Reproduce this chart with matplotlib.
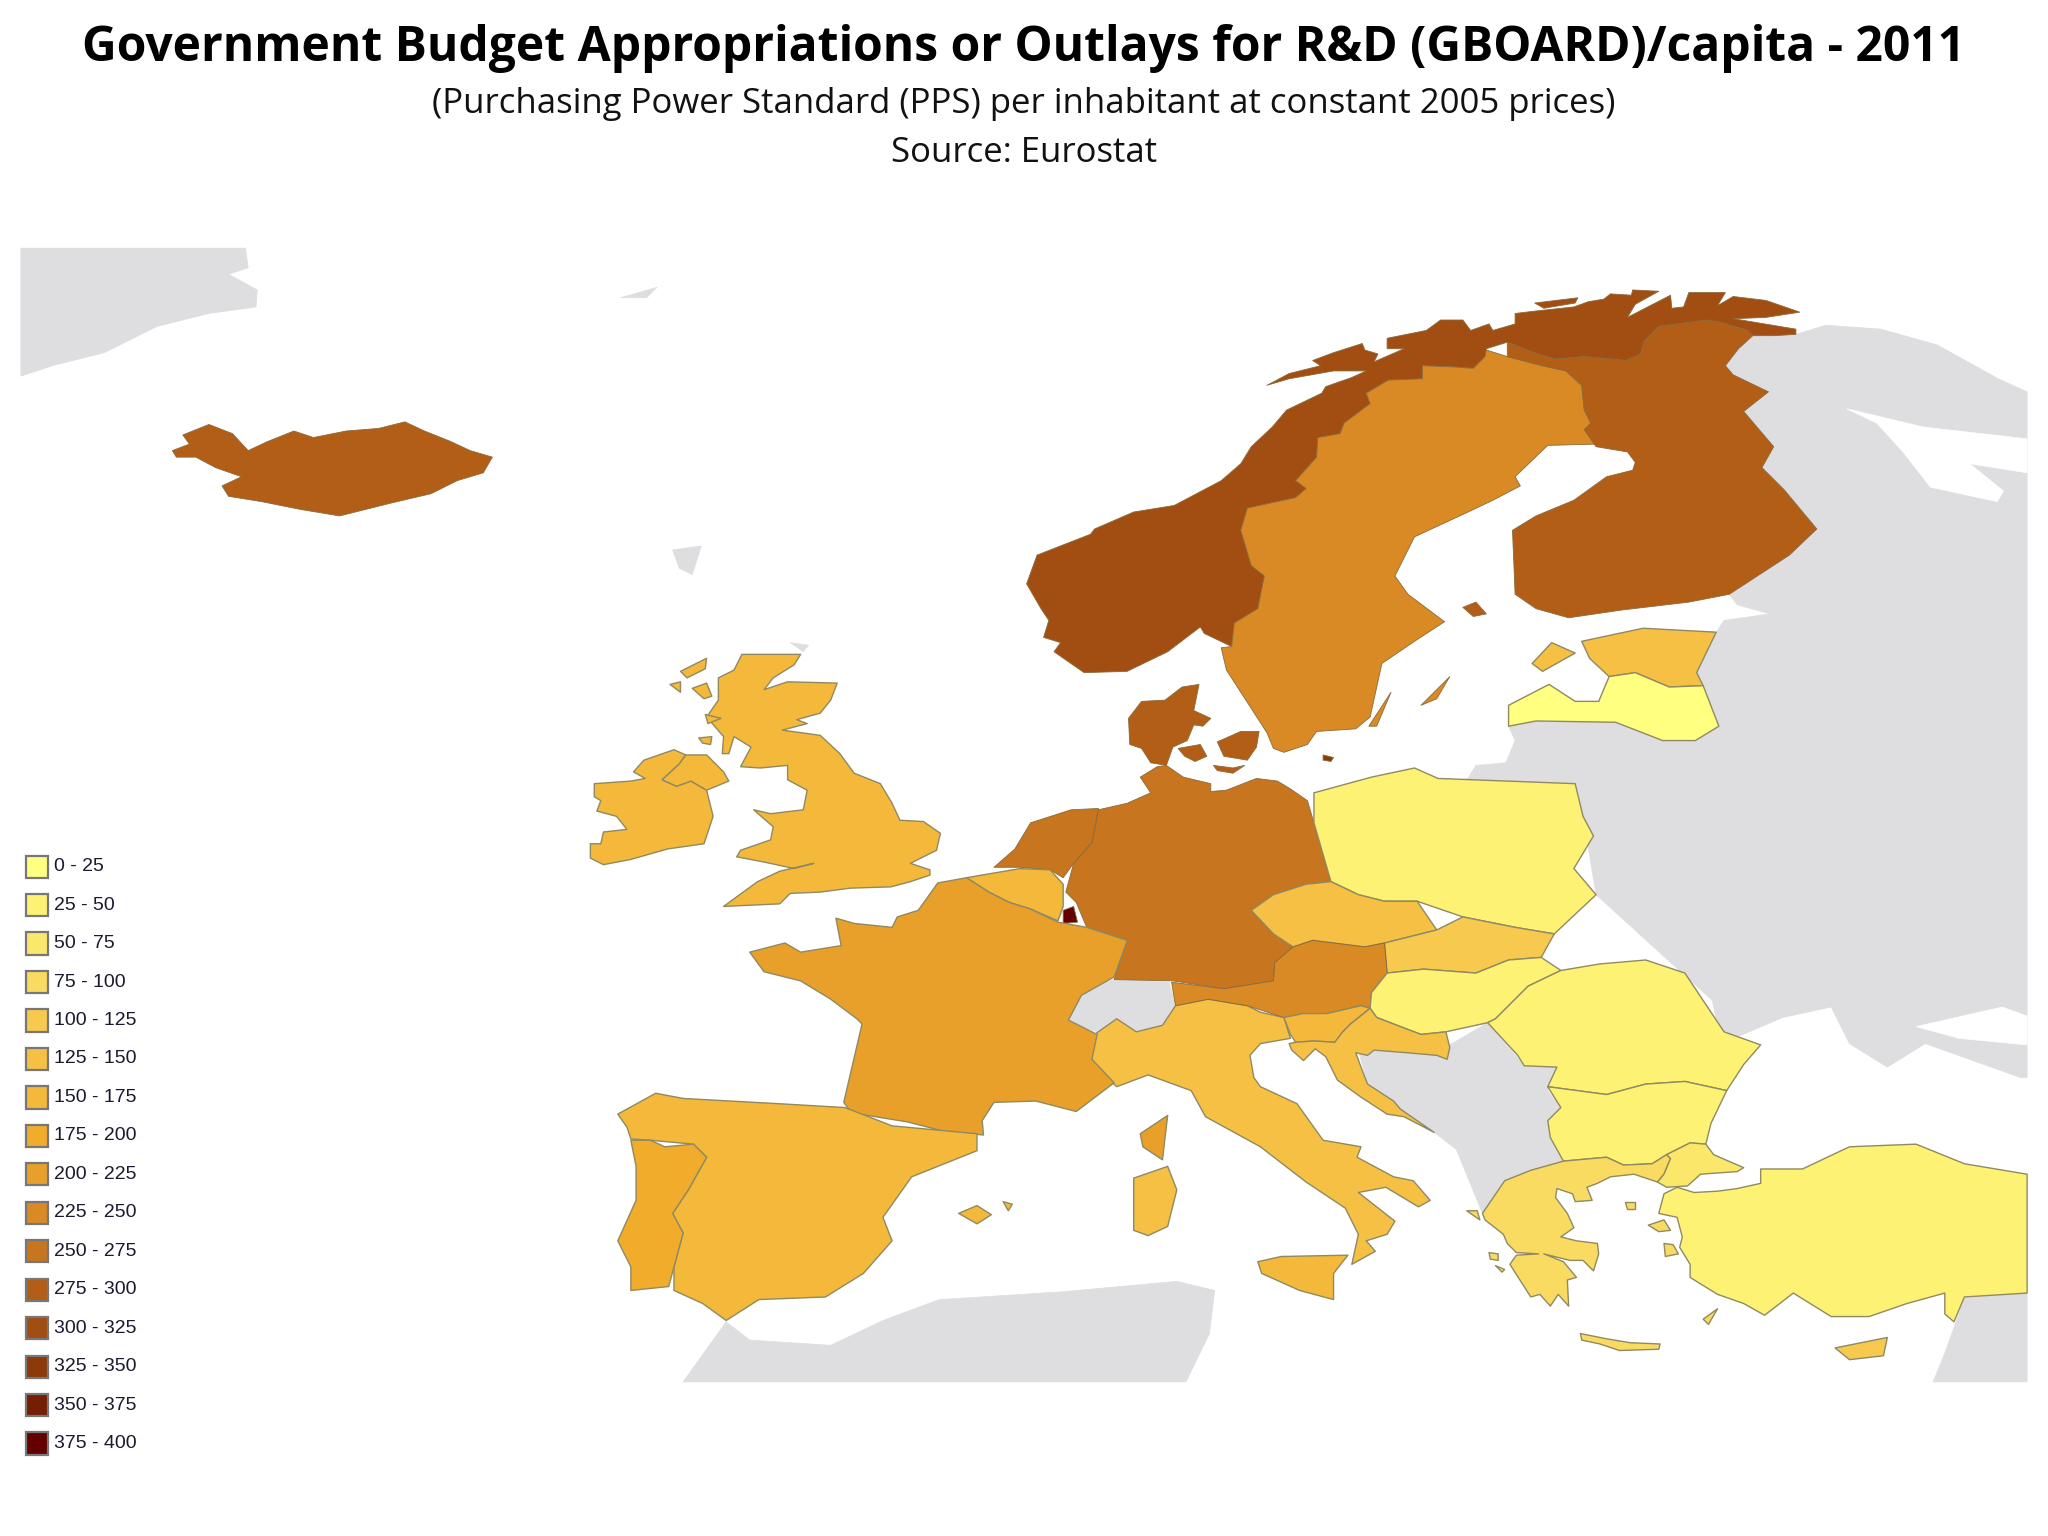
# -*- coding: utf-8 -*-
import matplotlib
matplotlib.use("Agg")
import matplotlib.pyplot as plt
from matplotlib.patches import Rectangle

# legend classes
band_labels = ["0 - 25", "25 - 50", "50 - 75", "75 - 100", "100 - 125", "125 - 150", "150 - 175", "175 - 200",
               "200 - 225", "225 - 250", "250 - 275", "275 - 300", "300 - 325", "325 - 350", "350 - 375", "375 - 400"]
band_colors = ["#FFFF80", "#FDF274", "#FBE76A", "#F9DB62", "#F7C94F", "#F6C045", "#F4B83A", "#F2AC2C",
               "#E9A02A", "#D98A25", "#C8751F", "#B35E17", "#A24E12", "#8B3A0A", "#751E05", "#640000"]

# outlines, in map units (y goes down)
greenland = [(16,190),(188,190),(190,205),(175,210),(197,222),(196,235),(160,240),(120,250),(80,270),(40,280),(16,288)]
jan_mayen = [(475,228),(503,220),(495,228)]
faroe = [(515,421),(537,418),(530,440),(520,435)]
orkney = [(605,492),(619,494),(615,499)]
russia = [(1124,596),(1130,586),(1153,584),(1160,567),(1155,556),(1176,552),(1237,553),(1298,567),(1316,556),(1299,515),(1314,484),
          (1320,475),(1355,470),(1330,463),(1324,455),(1391,405),(1366,375),(1349,358),(1358,342),(1335,315),(1354,300),
          (1327,287),(1321,280),(1331,267),(1342,257),(1375,256),(1398,249),(1440,252),(1483,264),(1530,290),(1552,300),
          (1552,825),(1547,825),(1474,799),(1445,817),(1416,799),(1402,771),(1365,779),(1318,799),(1311,766),(1222,685),
          (1212,625),(1206,600),(1101,600)]
white_sea = [(1414,313),(1473,327),(1552,336),(1552,362),(1508,355),(1534,376),(1529,384),(1478,373),(1457,346),(1437,324)]
azov = [(1467,786),(1533,771),(1552,778),(1552,800),(1500,795)]
balkans = [(1040,804),(1110,800),(1139,783),(1167,816),(1192,817),(1185,835),(1195,848),(1185,858),(1187,871),(1197,889),(1172,896),
           (1152,904),(1135,929),(1115,880),(1098,867),(1072,849),(1047,830)]
switzerland = [(817,780),(830,758),(853,750),(895,752),(900,770),(890,785),(870,790),(855,780),(840,790),(825,785)]
north_africa = [(523,1058),(556,1012),(574,1026),(636,1030),(676,1011),(719,995),(814,989),(901,981),(930,988),(926,1021),(908,1058)]
syria = [(1504,994),(1552,990),(1552,1058),(1480,1058),(1489,1036)]

iceland = [(132,345),(145,340),(140,333),(160,325),(178,332),(190,345),(205,338),(225,330),(240,335),(265,330),(290,328),
           (310,323),(325,330),(345,338),(360,345),(377,350),(370,362),(350,368),(330,378),(300,385),(260,395),(230,390),
           (200,384),(175,380),(170,372),(185,365),(165,358),(150,350),(135,350)]
norway = [(950,355),(958,342),(974,327),(985,314),(1012,301),(1015,296),(1035,289),(1046,284),(1021,284),(987,290),(970,295),(987,286),
          (1011,280),(1005,276),(1021,270),(1043,263),(1045,268),(1055,271),(1052,277),(1075,267),(1062,267),(1062,259),
          (1092,253),(1103,245),(1120,245),(1126,253),(1140,248),(1143,253),(1160,248),(1160,240),(1177,238),(1205,235),
          (1216,231),(1228,229),(1233,225),(1249,226),(1250,222),(1270,223),(1252,233),(1246,243),(1279,226),(1280,236),
          (1289,235),(1293,224),(1321,224),(1315,234),(1327,227),(1352,230),(1378,239),(1352,243),(1327,244),(1375,252),
          (1375,256),(1358,257),(1342,257),(1338,253),(1318,247),(1307,245),(1270,250),(1259,261),(1256,271),(1245,276),
          (1213,273),(1191,275),(1177,271),(1154,262),(1138,267),(1137,273),(1128,282),(1114,281),(1089,280),(1089,290),
          (1075,291),(1063,291),(1046,301),(1049,309),(1029,324),(1026,332),(1009,335),(1008,350),(992,368),(1000,374),
          (992,381),(955,389),(950,406),(958,433),(968,441),(963,466),(945,477),(943,495),(922,485),(919,480),(894,499),
          (863,514),(830,515),(807,499),(812,492),(799,488),(803,475),(797,466),(786,447),(794,425),(835,409),(838,405),(868,392),
          (899,387),(935,368)]
soroya = [(1175,232),(1208,228),(1206,232),(1182,236)]
sweden = [(1138,268),(1154,273),(1181,280),(1199,284),(1211,295),(1213,314),(1218,324),(1213,329),(1222,340),(1185,341),(1160,365),
          (1164,372),(1143,383),(1124,392),(1083,411),(1068,441),(1078,455),(1106,476),(1083,491),(1058,508),(1049,549),
          (1038,558),(1008,560),(1001,570),(983,576),(975,573),(970,561),(939,513),(935,496),(943,495),(945,477),(963,466),
          (968,441),(958,433),(950,406),(955,389),(992,381),(1000,374),(992,368),(1008,350),(1009,335),(1026,332),(1029,324),
          (1049,309),(1046,301),(1063,291),(1089,290),(1089,280),(1114,281),(1128,282),(1137,273)]
finland = [(1307,245),(1318,247),(1338,253),(1342,257),(1331,267),(1321,280),(1327,287),(1354,300),(1335,315),(1358,342),(1349,358),
           (1366,375),(1391,405),(1370,425),(1324,455),(1293,461),(1242,467),(1201,473),(1176,466),(1160,455),(1158,406),
           (1176,395),(1205,383),(1230,365),(1250,360),(1252,354),(1246,346),(1222,342),(1213,329),(1218,324),(1213,314),
           (1211,295),(1199,284),(1181,280),(1154,273),(1154,262),(1177,271),(1191,275),(1213,273),(1245,276),(1256,271),
           (1259,261),(1270,250)]
aland = [(1120,465),(1130,461),(1138,470),(1128,472)]
gotland = [(1088,540),(1110,518),(1100,535)]
oland = [(1048,556),(1065,530),(1054,556)]

denmark = [(864,550),(874,537),(892,536),(905,526),(918,524),(914,544),(927,550),(921,556),(914,555),(909,567),(898,572),(893,586),
           (881,584),(874,573),(865,570)]
zealand = [(932,568),(950,560),(964,560),(962,572),(955,582),(937,579)]
lolland = [(929,586),(944,588),(953,586),(944,592),(932,590)]
funen = [(902,573),(919,570),(924,579),(915,583),(907,579)]
bornholm = [(1013,578),(1021,580),(1019,583),(1013,582)]
germany = [(863,615),(881,607),(873,595),(886,587),(893,586),(906,595),(927,600),(927,606),(939,605),(962,596),(978,598),(988,604),
           (1001,613),(1006,630),(1019,675),(1000,677),(975,685),(958,697),(975,715),(990,725),(976,737),(975,751),(937,757),
           (898,751),(853,750),(863,720),(832,710),(824,691),(816,683),(822,661),(836,645),(841,620)]
netherlands = [(761,664),(777,650),(789,630),(820,620),(841,619),(836,645),(822,661),(814,672),(804,666),(781,664)]
belgium = [(740,672),(781,665),(804,666),(814,677),(814,694),(810,705),(789,696),(773,691),(757,683)]
luxembourg = [(814,697),(822,694),(825,706),(814,707)]
france = [(718,676),(740,672),(757,683),(773,691),(789,696),(810,706),(832,710),(863,720),(853,748),(828,762),(818,781),(840,792),
          (836,811),(853,829),(824,851),(793,843),(761,844),(752,858),(753,869),(722,866),(695,859),(652,852),(646,844),
          (660,784),(656,780),(636,765),(613,751),(585,744),(574,729),(601,722),(613,729),(644,724),(640,703),(654,707),
          (683,710),(687,702),(703,697)]
corsica = [(894,854),(890,888),(875,878),(873,868)]
italy = [(838,792),(855,780),(870,790),(890,785),(900,770),(925,765),(955,770),(965,775),(983,779),(988,795),(965,799),(957,808),(960,825),
         (965,832),(993,845),(1013,873),(1042,878),(1039,886),(1067,901),(1082,904),(1095,919),(1086,924),(1061,909),(1040,913),
         (1068,935),(1062,945),(1046,950),(1053,958),(1035,968),(1040,945),(1030,925),(1000,905),(965,878),(923,855),
         (912,835),(879,823),(855,832),(842,820),(835,810)]
sicily = [(963,966),(981,962),(1032,961),(1021,975),(1021,995),(995,988),(966,975)]
sardinia = [(868,902),(894,893),(901,911),(894,939),(879,946),(868,942)]
mallorca = [(734,929),(748,923),(759,930),(748,937)]
menorca = [(768,920),(775,922),(772,927)]
spain = [(473,853),(502,837),(523,841),(596,845),(647,848),(683,862),(748,868),(748,881),(698,901),(676,932),(683,950),(661,975),
         (632,993),(581,995),(556,1011),(538,998),(516,988),(516,970),(523,944),(515,929),(527,911),(541,886),(531,876),
         (498,873),(483,872),(480,863)]
portugal = [(483,873),(498,873),(509,878),(531,876),(541,886),(527,911),(515,929),(523,944),(516,970),(512,985),(483,988),(483,970),
            (473,950),(487,919),(487,893)]
ireland = [(455,600),(483,598),(494,596),(485,591),(493,582),(516,574),(525,578),(520,585),(507,597),(518,602),(529,598),(541,605),
           (546,625),(539,646),(511,650),(483,658),(462,662),(452,657),(452,646),(460,646),(462,637),(480,635),(472,625),
           (457,621),(460,613),(455,610)]
n_ireland = [(525,578),(541,578),(554,591),(558,598),(541,605),(529,598),(518,602),(507,597),(520,585)]
britain = [(568,501),(613,501),(608,509),(592,519),(585,528),(603,522),(641,523),(636,536),(628,546),(610,551),(618,554),(599,559),
           (628,563),(643,577),(654,592),(674,600),(683,615),(689,628),(707,629),(720,638),(717,651),(697,661),(712,666),
           (712,670),(697,675),(682,679),(651,680),(628,683),(605,684),(597,692),(554,694),(580,675),(597,667),(623,661),
           (608,665),(585,660),(564,656),(567,651),(590,643),(592,633),(577,620),(590,623),(615,620),(618,605),(603,597),
           (603,586),(582,588),(567,587),(575,572),(562,564),(558,577),(553,577),(554,564),(541,549),(550,536),(550,519),(562,513)]
lewis = [(521,514),(541,504),(540,512),(526,519)]
uist = [(513,524),(521,522),(521,530)]
skye = [(530,527),(541,523),(545,533),(539,535)]
mull = [(540,547),(552,550),(542,554)]
islay = [(535,565),(545,564),(544,570),(538,569)]

estonia = [(1211,491),(1258,481),(1314,484),(1299,515),(1304,525),(1278,526),(1252,515),(1232,518),(1217,504)]
saaremaa = [(1173,508),(1188,492),(1206,500),(1181,514)]
latvia = [(1155,556),(1155,540),(1186,524),(1206,537),(1224,537),(1232,518),(1252,515),(1278,526),(1304,525),(1316,556),(1298,567),
          (1273,567),(1237,553),(1176,552)]
poland = [(1006,607),(1050,595),(1083,588),(1101,596),(1206,600),(1212,625),(1220,640),(1205,665),(1222,685),(1190,715),(1160,710),
          (1120,702),(1085,690),(1060,690),(1040,685),(1019,675),(1006,630)]
czechia = [(958,697),(975,685),(1000,677),(1019,675),(1040,685),(1060,690),(1085,690),(1100,712),(1060,722),(1045,725),(1005,720),
           (990,725),(975,715)]
slovakia = [(1100,712),(1120,702),(1160,710),(1190,715),(1180,733),(1155,735),(1130,745),(1090,742),(1062,745),(1060,722)]
austria = [(976,737),(990,725),(1005,720),(1045,725),(1060,722),(1062,745),(1050,760),(1049,772),(1042,770),(1016,776),(998,776),(983,779),
           (955,770),(925,765),(900,770),(897,752),(937,757),(975,751)]
hungary = [(1050,760),(1062,745),(1090,742),(1130,745),(1155,735),(1180,733),(1195,743),(1170,755),(1145,780),(1139,783),(1107,790),
           (1088,792),(1067,784),(1054,779),(1049,772)]
slovenia = [(983,779),(998,776),(1016,776),(1042,770),(1049,772),(1034,784),(1028,790),(1022,798),(1006,797),(992,798),(988,792)]
croatia = [(1049,772),(1054,779),(1067,784),(1088,792),(1107,790),(1110,802),(1108,811),(1100,808),(1077,806),(1052,804),(1047,808),
           (1038,806),(1042,817),(1047,830),(1067,843),(1072,849),(1098,867),(1075,855),(1062,853),(1042,840),(1024,827),
           (1015,809),(1007,803),(998,812),(989,804),(987,799),(992,798),(1006,797),(1022,798),(1028,790),(1034,784)]
romania = [(1139,783),(1145,780),(1170,755),(1195,743),(1225,738),(1260,735),(1290,745),(1320,790),(1348,800),(1335,815),(1322,835),
           (1290,828),(1260,830),(1230,838),(1185,832),(1192,817),(1167,816),(1162,808)]
bulgaria = [(1185,832),(1230,838),(1260,830),(1290,828),(1322,835),(1310,860),(1306,876),(1294,875),(1276,884),(1265,891),(1243,892),
            (1230,886),(1197,889),(1187,871),(1185,858),(1195,848)]
greece = [(1135,929),(1152,904),(1172,896),(1197,889),(1230,886),(1243,892),(1265,891),(1276,884),(1279,887),(1274,899),(1269,905),
          (1251,899),(1233,901),(1223,906),(1215,909),(1219,919),(1206,920),(1204,914),(1192,910),(1191,917),(1200,929),
          (1205,940),(1195,947),(1207,950),(1223,952),(1224,960),(1220,973),(1212,965),(1202,965),(1182,960),(1197,966),(1207,978),
          (1200,980),(1201,1000),(1193,991),(1187,1000),(1179,991),(1172,993),(1156,968),(1161,961),(1178,960),(1161,959),
          (1154,952),(1151,945),(1137,934)]
crete = [(1210,1021),(1230,1025),(1248,1028),(1271,1029),(1270,1033),(1240,1034),(1225,1029),(1211,1026)]
lesbos = [(1262,938),(1274,934),(1279,942),(1270,943)]
chios = [(1274,952),(1281,953),(1285,960),(1275,962)]
thasos = [(1244,920),(1252,920),(1252,926),(1246,926)]
rhodes = [(1304,1010),(1315,1002),(1308,1014)]
corfu = [(1123,927),(1131,927),(1133,934)]
cephalonia = [(1140,959),(1147,960),(1147,965),(1141,964)]
zante = [(1145,969),(1152,972),(1150,974)]
thrace = [(1276,884),(1294,875),(1306,876),(1312,884),(1335,894),(1330,897),(1302,899),(1292,908),(1276,909),(1269,905),(1274,899),(1279,887)]
turkey = [(1270,929),(1274,914),(1284,909),(1297,913),(1315,912),(1330,910),(1348,906),(1348,895),(1380,895),(1416,878),(1467,876),
          (1504,891),(1552,899),(1552,990),(1504,993),(1496,1012),(1489,1006),(1489,990),(1460,998),(1431,1008),(1402,1008),
          (1373,990),(1351,1007),(1335,998),(1315,991),(1302,983),(1294,978),(1294,968),(1286,955),(1288,947),(1284,932)]
cyprus = [(1405,1032),(1445,1024),(1442,1038),(1416,1041)]

grey_land = [greenland, jan_mayen, faroe, orkney, russia, balkans, switzerland, north_africa, syria]
white_water = [white_sea, azov]

# (outline, class index) in drawing order
countries = [(iceland, 11), (norway, 12), (soroya, 12), (sweden, 9), (finland, 11), (aland, 11), (gotland, 9), (oland, 9),
             (denmark, 11), (zealand, 11), (lolland, 11), (funen, 11), (bornholm, 13), (italy, 5), (sicily, 6), (sardinia, 5), (corsica, 8),
             (germany, 10), (netherlands, 10), (belgium, 6), (luxembourg, 15), (france, 8), (mallorca, 6), (menorca, 6), (spain, 6), (portugal, 7),
             (ireland, 6), (n_ireland, 6), (britain, 6), (lewis, 6), (uist, 6), (skye, 6), (mull, 6), (islay, 6),
             (estonia, 5), (saaremaa, 5), (latvia, 0), (poland, 1), (czechia, 5), (slovakia, 4), (austria, 9), (hungary, 1),
             (slovenia, 6), (croatia, 5), (romania, 1), (bulgaria, 1), (greece, 3), (crete, 3), (lesbos, 3), (chios, 3), (thasos, 3),
             (rhodes, 3), (corfu, 3), (cephalonia, 3), (zante, 3), (thrace, 2), (turkey, 1), (cyprus, 4)]

fig = plt.figure(figsize=(20.48, 15.36), dpi=100)
ax = fig.add_axes([0, 0, 1, 1])
ax.set_xlim(0, 1568)
ax.set_ylim(1176, 0)
ax.axis("off")

for shape in grey_land:
    ax.fill(*zip(*shape), fc="#DEDEE0", ec="#DEDEE0", lw=0.5)
for shape in white_water:
    ax.fill(*zip(*shape), fc="white", ec="white", lw=0.5)
for shape, band in countries:
    # the dark classes have hardly any visible border in the picture
    edge = "#8F8A62" if band < 9 else "#8A6A3A"
    ax.fill(*zip(*shape), fc=band_colors[band], ec=edge, lw=1.0 if band < 9 else 0.6, joinstyle="round")

# legend
for i, (lab, col) in enumerate(zip(band_labels, band_colors)):
    y = 655 + i * 29.45
    ax.add_patch(Rectangle((20, y), 17, 17, fc=col, ec="#777777", lw=1.6))
    ax.text(41, y + 8.5, lab, fontsize=14, va="center", ha="left", color="#1a1a2e", family="Liberation Sans")

# titles
ax.text(784, 37, "Government Budget Appropriations or Outlays for R&D (GBOARD)/capita - 2011", ha="center", va="center",
        fontsize=34.6, fontweight="bold", family="Open Sans", color="black")
ax.text(784, 80, "(Purchasing Power Standard (PPS) per inhabitant at constant 2005 prices)", ha="center", va="center",
        fontsize=25, family="Open Sans", color="#111111")
ax.text(784, 117, "Source: Eurostat", ha="center", va="center", fontsize=25, family="Open Sans", color="#111111")

fig.savefig("out.png", dpi=100, facecolor="white")
